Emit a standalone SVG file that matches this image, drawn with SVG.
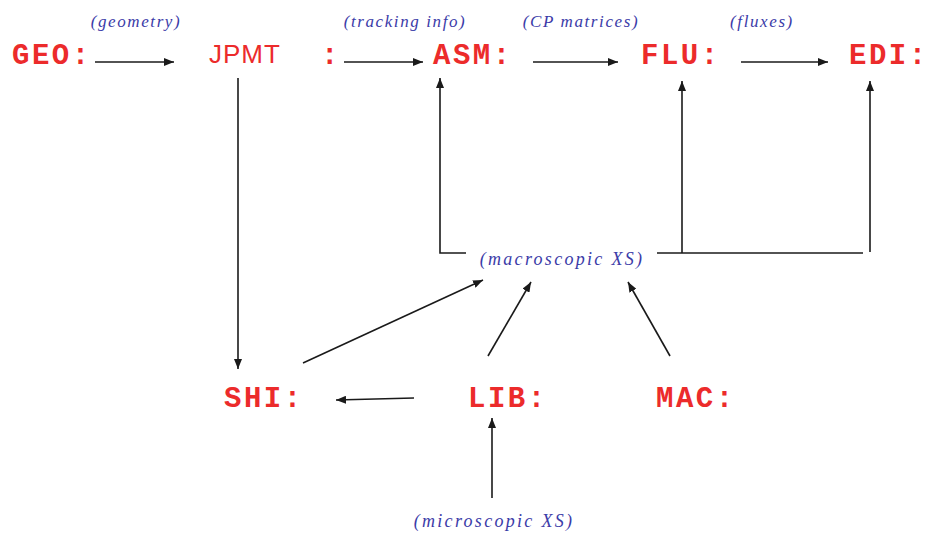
<svg xmlns="http://www.w3.org/2000/svg" width="929" height="533" viewBox="0 0 929 533">
<style>
.m{font-family:"Liberation Mono",monospace;font-weight:bold;font-size:29px;letter-spacing:2.5px;fill:#ec2b2b}
.s{font-family:"Liberation Sans",Arial,sans-serif;font-size:26px;letter-spacing:1px;fill:#ec2b2b}
.l{font-family:"Liberation Serif",serif;font-style:italic;font-size:17px;letter-spacing:1.6px;fill:#3b3ba8;text-anchor:middle}
.b{font-size:18px;letter-spacing:2.3px}
.c{stroke:#1a1a1a;stroke-width:1.6;fill:none}
</style>
<defs>
<marker id="a" viewBox="0 0 10 8" refX="10" refY="4" markerWidth="10" markerHeight="8" markerUnits="userSpaceOnUse" orient="auto">
<path d="M0,0 L10,4 L0,8 z" fill="#1a1a1a"/>
</marker>
</defs>
<rect width="929" height="533" fill="#fff"/>
<g id="GEO"><text class="m" x="12" y="64">GEO:</text></g>
<g id="JPMT"><text class="s" x="209" y="63">JPMT</text></g>
<g id="colon"><text class="m" x="321" y="64">:</text></g>
<g id="ASM"><text class="m" x="433" y="64">ASM:</text></g>
<g id="FLU"><text class="m" x="641" y="64">FLU:</text></g>
<g id="EDI"><text class="m" x="849" y="64">EDI:</text></g>
<g id="SHI"><text class="m" x="224" y="407">SHI:</text></g>
<g id="LIB"><text class="m" x="468" y="407">LIB:</text></g>
<g id="MAC"><text class="m" x="656" y="407">MAC:</text></g>
<g id="labels">
<text class="l" x="136" y="27">(geometry)</text>
<text class="l" x="405" y="27">(tracking info)</text>
<text class="l" x="581" y="27">(CP matrices)</text>
<text class="l" x="762" y="27">(fluxes)</text>
<text class="l b" x="562" y="265">(macroscopic XS)</text>
<text class="l b" x="494" y="527">(microscopic XS)</text>
</g>
<g id="connectors">
<line class="c" x1="95" y1="62" x2="174" y2="62" marker-end="url(#a)"/>
<line class="c" x1="344" y1="62" x2="423" y2="62" marker-end="url(#a)"/>
<line class="c" x1="533" y1="62" x2="618" y2="62" marker-end="url(#a)"/>
<line class="c" x1="741" y1="62" x2="828" y2="62" marker-end="url(#a)"/>
<line class="c" x1="238" y1="78" x2="238" y2="369" marker-end="url(#a)"/>
<polyline class="c" points="466,253 440,253 440,78" marker-end="url(#a)"/>
<line class="c" x1="657" y1="253" x2="863" y2="253"/>
<line class="c" x1="682" y1="253" x2="682" y2="81" marker-end="url(#a)"/>
<line class="c" x1="870" y1="252" x2="870" y2="81" marker-end="url(#a)"/>
<line class="c" x1="303" y1="363" x2="483" y2="280" marker-end="url(#a)"/>
<line class="c" x1="488" y1="356" x2="531" y2="282" marker-end="url(#a)"/>
<line class="c" x1="670" y1="356" x2="628" y2="282" marker-end="url(#a)"/>
<line class="c" x1="414" y1="398" x2="336" y2="400" marker-end="url(#a)"/>
<line class="c" x1="492" y1="498" x2="492" y2="418" marker-end="url(#a)"/>
</g>
</svg>
